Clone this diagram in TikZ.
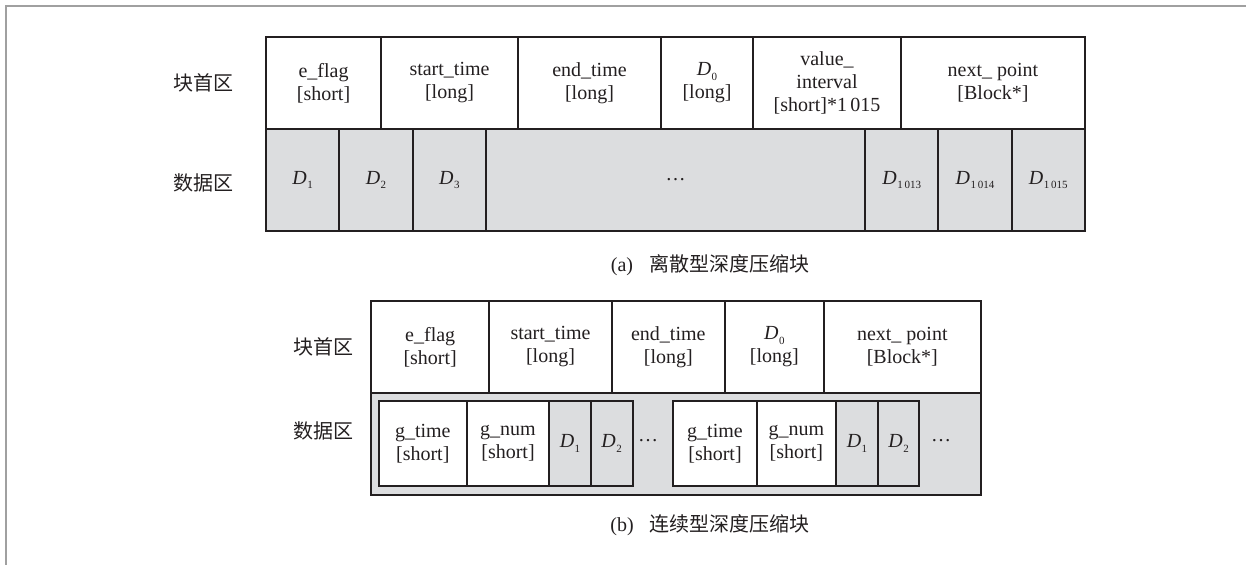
\documentclass[tikz,border=0pt]{standalone}
\usepackage{fontspec}
\setmainfont{Liberation Serif}
\newfontfamily\cjk{Noto Sans CJK SC}
\definecolor{cellgray}{HTML}{DCDDDF}
\definecolor{linec}{HTML}{231F20}
\definecolor{framec}{HTML}{A0A0A0}
\newcommand\Dx[1]{\textit{D}\kern0.5pt\raisebox{-0.5ex}{\fontsize{11}{11}\selectfont #1}}
\begin{document}
\begin{tikzpicture}[x=1pt,y=-1pt,
  cell/.style={draw=linec, line width=1.8pt, inner sep=0pt, align=center,
    font=\fontsize{20}{23}\selectfont, text=linec},
  gcell/.style={cell, fill=cellgray},
  wcell/.style={cell, fill=white},
  lab/.style={font=\cjk\fontsize{20}{20}\selectfont, text=linec},
  captxt/.style={font=\fontsize{20}{20}\selectfont, text=linec},
  dotstxt/.style={font=\fontsize{20}{20}\selectfont, text=linec, inner sep=0pt},
  frameline/.style={draw=framec, line width=1.5pt}]
\useasboundingbox (0,0) rectangle (1246,565);
\coordinate (fr1) at (1246,6);
\coordinate (fr2) at (6,6);
\coordinate (fr3) at (6,565);
\draw[frameline] (fr1) -- (fr2) -- (fr3);

% ---------- (a) ----------
\node[lab] (ahl) at (203,83) {块首区};
\node[lab] (adl) at (203,183) {数据区};
\node[wcell, minimum width=115pt, minimum height=92pt] (ah1) at (323.5,83) {e\_flag\\{[short]}};
\node[wcell, minimum width=137pt, minimum height=92pt] (ah2) at (449.5,83) {start\_time\\{[long]}};
\node[wcell, minimum width=143pt, minimum height=92pt] (ah3) at (589.5,83) {end\_time\\{[long]}};
\node[wcell, minimum width=92pt, minimum height=92pt] (ah4) at (707,83) {\Dx{0}\\{[long]}};
\node[wcell, minimum width=148pt, minimum height=92pt] (ah5) at (827,83) {value\_\\interval\\{[short]*1\,015}};
\node[wcell, minimum width=184pt, minimum height=92pt] (ah6) at (993,83) {next\_ point\\{[Block*]}};

\node[gcell, minimum width=73.3pt, minimum height=102pt] (ad1) at (302.7,180) {\Dx{1}};
\node[gcell, minimum width=73.3pt, minimum height=102pt] (ad2) at (376,180) {\Dx{2}};
\node[gcell, minimum width=73.3pt, minimum height=102pt] (ad3) at (449.3,180) {\Dx{3}};
\node[gcell, minimum width=379pt, minimum height=102pt] (ad4) at (675.5,180) {…};
\node[gcell, minimum width=73.3pt, minimum height=102pt] (ad5) at (901.7,180) {\Dx{1\,013}};
\node[gcell, minimum width=73.3pt, minimum height=102pt] (ad6) at (975,180) {\Dx{1\,014}};
\node[gcell, minimum width=73.3pt, minimum height=102pt] (ad7) at (1048.3,180) {\Dx{1\,015}};

\node[captxt] (capa) at (710,265) {(a)\hspace{0.8em}{\cjk 离散型深度压缩块}};

% ---------- (b) ----------
\node[lab] (bhl) at (323,347) {块首区};
\node[lab] (bdl) at (323,431) {数据区};
\node[wcell, minimum width=118.3pt, minimum height=92pt] (bh1) at (430.2,347) {e\_flag\\{[short]}};
\node[wcell, minimum width=122.4pt, minimum height=92pt] (bh2) at (550.5,347) {start\_time\\{[long]}};
\node[wcell, minimum width=113.3pt, minimum height=92pt] (bh3) at (668.3,347) {end\_time\\{[long]}};
\node[wcell, minimum width=98.7pt, minimum height=92pt] (bh4) at (774.3,347) {\Dx{0}\\{[long]}};
\node[wcell, minimum width=157.3pt, minimum height=92pt] (bh5) at (902.3,347) {next\_ point\\{[Block*]}};

\node[gcell, minimum width=610pt, minimum height=102pt] (bdata) at (676,444) {};

\node[wcell, minimum width=87.7pt, minimum height=85pt] (bg1) at (422.8,443.5) {g\_time\\{[short]}};
\node[wcell, minimum width=82.6pt, minimum height=85pt] (bn1) at (508,443.5) {g\_num\\{[short]}};
\node[gcell, minimum width=41.4pt, minimum height=85pt] (bd11) at (570,443.5) {\Dx{1}};
\node[gcell, minimum width=42pt, minimum height=85pt] (bd12) at (611.7,443.5) {\Dx{2}};
\node[dotstxt] (bdots1) at (648,441) {…};
\node[wcell, minimum width=83.4pt, minimum height=85pt] (bg2) at (715,443.5) {g\_time\\{[short]}};
\node[wcell, minimum width=79.3pt, minimum height=85pt] (bn2) at (796.3,443.5) {g\_num\\{[short]}};
\node[gcell, minimum width=42pt, minimum height=85pt] (bd21) at (857,443.5) {\Dx{1}};
\node[gcell, minimum width=41.3pt, minimum height=85pt] (bd22) at (898.7,443.5) {\Dx{2}};
\node[dotstxt] (bdots2) at (941,441) {…};

\node[captxt] (capb) at (710,525) {(b)\hspace{0.8em}{\cjk 连续型深度压缩块}};
\end{tikzpicture}
\end{document}
